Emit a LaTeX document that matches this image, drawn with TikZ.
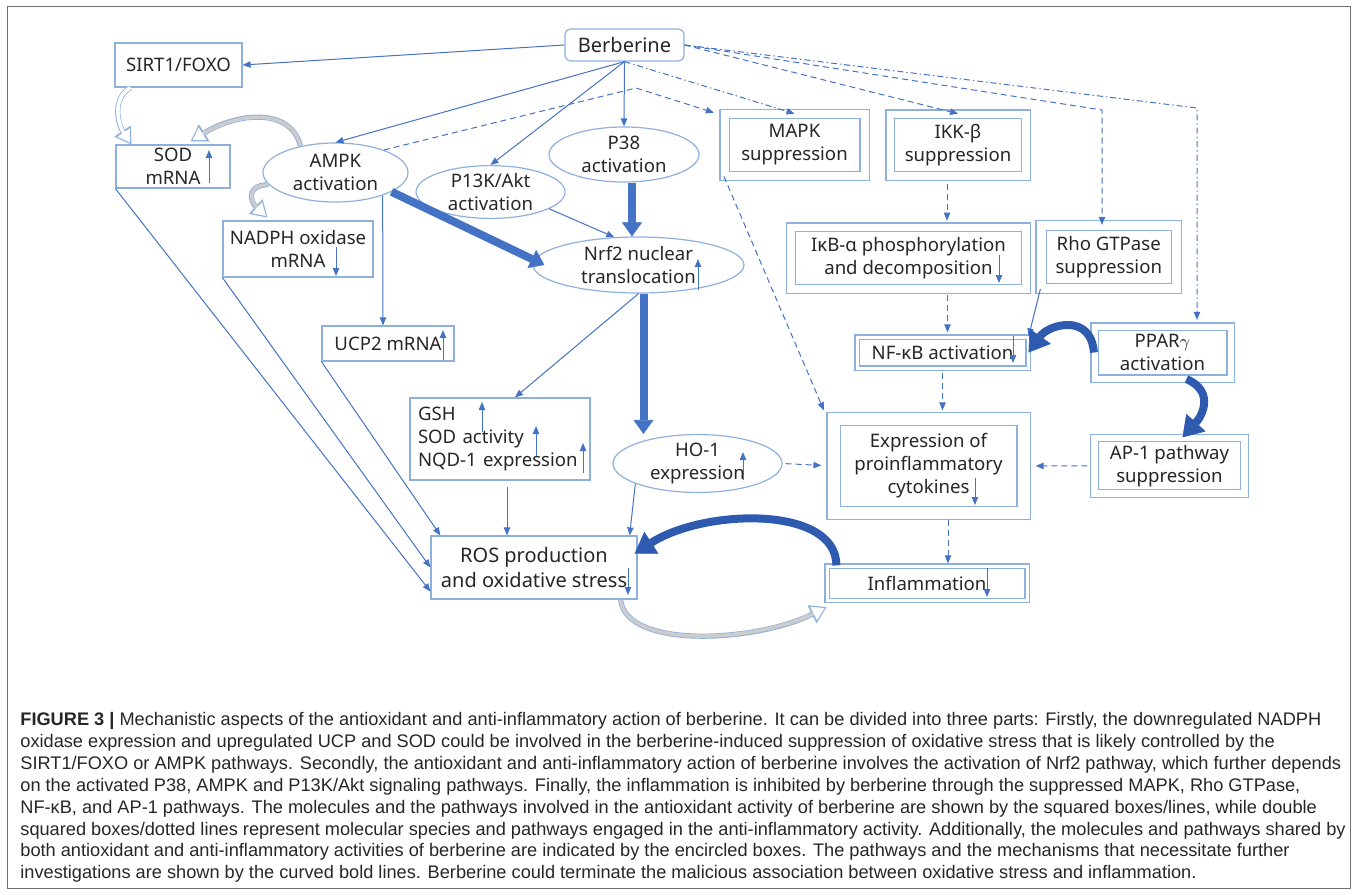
\documentclass[tikz,border=0pt]{standalone}
\usepackage{fontspec}
\setmainfont{Noto Sans}
\newfontfamily\capfont{Liberation Sans}
\usetikzlibrary{arrows.meta, shapes.geometric, calc}
\definecolor{boxblue}{HTML}{8DB0DE}
\definecolor{arrblue}{HTML}{4472C4}
\definecolor{boldblue}{HTML}{2E5BAF}
\definecolor{txtgray}{HTML}{262626}
\definecolor{tailgray}{HTML}{CCCCCC}
\definecolor{framegray}{HTML}{6E6E6E}

\begin{document}
\begin{tikzpicture}[x=0.5pt, y=-0.5pt,
  font=\fontsize{9.3}{11.5}\selectfont, text=txtgray,
  sbox/.style={draw=boxblue, line width=0.6pt, align=center, inner sep=0pt},
  dbox/.style={sbox, double=white, double distance=3.75pt},
  ebox/.style={sbox, ellipse},
  arr/.style={arrblue, line width=0.5pt, -{Triangle[length=4pt, width=3.2pt]}},
  darr/.style={arr, dash pattern=on 3pt off 2pt},
  ddarr/.style={arr, dash pattern=on 3pt off 1.5pt on 0.7pt off 1.5pt},
  fatarr/.style={arrblue, line width=4pt, -{Triangle[length=7pt, width=10pt, line width=0.3pt]}},
  boldarr/.style={boldblue, line width=4pt, -{Triangle[length=10pt, width=13pt, line width=0.3pt]}},
  hollow/.style={draw=white, line width=1.8pt, shorten >=1.1pt,
                 -{Triangle[length=6pt, width=7.4pt, line width=0.3pt]},
                 preaction={draw=boxblue, line width=2.6pt, shorten >=0pt,
                 -{Triangle[length=8pt, width=10pt, line width=0.3pt]}}},
  hollowg/.style={hollow, draw=tailgray,
                 -{Triangle[length=6pt, width=7.4pt, line width=0.3pt, color=white]}},
]
\useasboundingbox (0,0) rectangle (1357,895);

% Frame
\draw[framegray, line width=0.6pt] (7.5,6.5) rectangle (1350.5,888.5);

% ============ Top row ============
\node[sbox, rounded corners=3pt, minimum width=59.5pt, minimum height=16pt, font=\fontsize{10}{12}\selectfont] (berb) at (624.5,45) {Berberine};
\node[sbox, minimum width=63.5pt, minimum height=22pt] (sirt) at (178.5,65) {SIRT1/FOXO};
\node[sbox, minimum width=57pt, minimum height=21.5pt] (sod) at (173,166.5) {SOD\\mRNA};
\node[ebox, minimum width=72.5pt, minimum height=29.5pt] (ampk) at (335.5,172.5) {AMPK\\activation};
\node[ebox, minimum width=74.5pt, minimum height=25pt] (pik) at (490.5,192) {P13K/Akt\\activation};
\node[ebox, minimum width=75pt, minimum height=27.5pt] (p38) at (624,154.5) {P38\\activation};
\node[dbox, double distance=4pt, minimum width=70pt, minimum height=30.75pt] (mapk) at (794.5,145) {MAPK\\suppression};
\node[dbox, minimum width=67.75pt, minimum height=30.75pt] (ikk) at (958,145) {IKK-β\\suppression};

% ============ Middle ============
\node[dbox, minimum width=117.5pt, minimum height=30.75pt] (ikb) at (908.5,258) {IκB-α phosphorylation\\and decomposition};
\node[dbox, double distance=4.5pt, minimum width=67.75pt, minimum height=31.5pt] (rho) at (1108.75,257) {Rho GTPase\\suppression};
\node[sbox, minimum width=75pt, minimum height=28pt] (nadph) at (298,249) {NADPH oxidase\\mRNA};
\node[ebox, minimum width=105.5pt, minimum height=28pt] (nrf) at (638.5,265) {Nrf2 nuclear\\translocation};
\node[sbox, minimum width=66pt, minimum height=17.5pt] (ucp) at (388,343.5) {UCP2 mRNA};
\node[dbox, double distance=1.5pt, minimum width=85.5pt, minimum height=15.5pt] (nfkb) at (942.5,352.5) {NF-κB activation};
\node[dbox, double distance=3pt, minimum width=68pt, minimum height=26pt] (ppar) at (1162.5,352.5) {PPAR$\gamma$\\activation};
\node[sbox, align=left, text width=82pt, minimum width=90pt, minimum height=41pt] (gsh) at (500,439) {GSH\\SOD activity\\NQD-1 expression};
\node[ebox, minimum width=84.5pt, minimum height=26.5pt] (ho) at (697.5,463.5) {HO-1\\expression};
\node[dbox, double distance=6pt, minimum width=95pt, minimum height=47pt] (expr) at (928.5,466) {Expression of\\proinflammatory\\cytokines};
\node[dbox, double distance=3.25pt, minimum width=75pt, minimum height=27.75pt] (ap) at (1169.5,465.75) {AP-1 pathway\\suppression};

% ============ Bottom ============
\node[sbox, minimum width=103pt, minimum height=31.5pt, font=\fontsize{10}{12.5}\selectfont] (ros) at (534,567.5) {ROS production\\and oxidative stress};
\node[dbox, double distance=1.5pt, minimum width=100pt, minimum height=17.25pt] (infl) at (927,583.25) {Inflammation};

% up / down marks inside the boxes
\draw[arr] (209,183) -- (209,150);
\draw[arr] (336,247) -- (336,276);
\draw[arr] (443,360) -- (443,330);
\draw[arr] (698,290) -- (698,259);
\draw[arr] (482,432) -- (482,402);
\draw[arr] (536,456) -- (536,426);
\draw[arr] (583,473) -- (583,443);
\draw[arr] (743,480) -- (743,452);
\draw[arr] (628,568) -- (628,595);
\draw[arr] (999,255) -- (999,283);
\draw[arr] (1013,336) -- (1013,363);
\draw[arr] (975,478) -- (975,505);
\draw[arr] (987,568) -- (987,597);

% ============ Antioxidant pathways (solid) ============
\draw[arr] (berb.west) -- (sirt.east);
\draw[arr] (berb.south) -- (ampk.north);
\draw[arr] (berb.south) -- (pik.north);
\draw[arr] (berb.south) -- (p38.north);
\draw[arr] (pik.-16) -- (nrf.131);
\draw[arr] (ampk.-26) -- ($(ucp.north)+(-5,0)$);
\draw[arr] (nrf.south) -- ($(gsh.north)+(15,0)$);
\coordinate (gsho) at ([xshift=3.5pt]gsh.south);
\draw[arr, shorten <=3pt] (gsho) -- (gsho |- ros.north);
\draw[arr] (ho.198) -- ($(ros.north east)+(-8,0)$);
\draw[arr] (sod.south west) -- ($(ros.west)+(0,24)$);
\draw[arr] (nadph.south west) -- (ros.west);
\draw[arr] (ucp.south west) -- ($(ros.north west)+(10,0)$);
\draw[arr] (rho.south west) -- (nfkb.north east);

% thick arrows into and out of Nrf2
\draw[fatarr] (ampk.-19) -- ($(nrf.west)+(12,0)$);
\coordinate (p38o) at ([xshift=4pt]p38.south);
\draw[fatarr] (p38o) -- (p38o |- nrf.north);
\coordinate (nrfo) at ([xshift=2.5pt]nrf.south);
\draw[fatarr] (nrfo) -- (nrfo |- ho.north);

% ============ Anti-inflammatory pathways (dashed) ============
\coordinate (ampkbend) at (636,88);
\coordinate (rhobend) at (1102,110);
\coordinate (pparbend) at (1197,108);
\draw[darr] (ampk.25) -- (ampkbend) -- ($(mapk.north west)+(-10,-1)$);
\draw[ddarr] (berb.south) -- (mapk.north);
\draw[darr] (berb.east) -- (ikk.north);
\draw[darr] (berb.east) -- (rhobend) -- (rhobend |- rho.north);
\draw[ddarr, shorten >=3pt] (berb.east) -- (pparbend) -- (pparbend |- ppar.north);
\draw[darr] (mapk.south west) -- ($(expr.north west)+(-9,-8)$);
\coordinate (ikko) at ([xshift=-5.5pt]ikk.south);
\draw[darr, shorten <=4pt, shorten >=3pt] (ikko) -- (ikko |- ikb.north);
\coordinate (nfkbo) at ([xshift=2.5pt]nfkb.north);
\draw[darr, shorten <=3pt, shorten >=2pt] (nfkbo |- ikb.south) -- (nfkbo);
\draw[darr, shorten <=2pt, shorten >=4pt] (nfkb.south) -- (nfkb.south |- expr.north);
\draw[darr, shorten <=1.5pt, shorten >=5.75pt] (ho.east) -- (expr.west);
\draw[darr, shorten <=3.25pt, shorten >=5.75pt] (ap.west) -- (expr.east);
\coordinate (inflo) at ([xshift=10.5pt]infl.north);
\draw[darr, shorten <=3pt, shorten >=1pt] (inflo |- expr.south) -- (inflo);

% ============ Curved bold arrows ============
\draw[boldarr] ([xshift=5pt]infl.north west) .. controls +(0,-60) and +(70,-45) .. ($(ros.east)+(-3,-14)$);
\draw[boldarr] (ppar.west) .. controls +(-3,-40) and +(20,-28) .. (nfkb.east);
\draw[boldarr] ([xshift=12pt]ppar.south) .. controls +(28,12) and +(20,-22) .. ([xshift=6.5pt]ap.north);

% hollow curved arrows
\draw[hollow] ([xshift=8pt]sirt.south west) .. controls +(-20,12) and +(-12,-18) .. ([xshift=8pt]sod.north west);
\draw[hollowg] (ampk.143) .. controls +(-10,-40) and +(45,-28) .. ($(sod.north east)+(-40,-3)$);
\draw[hollowg] (ampk.190) .. controls +(-25,2) and +(-15,-14) .. ($(nadph.north west)+(45,-3)$);
\draw[hollowg] ([xshift=-8.5pt]ros.south east) .. controls +(5,50) and +(-70,35) .. ([yshift=-3pt]infl.south west);

% ============ Caption ============
\node[anchor=north west, align=left, inner sep=0pt, font=\capfont\fontsize{9.1}{10.95}\selectfont, text=black!85] (caption) at (20,712) {%
\textbf{FIGURE 3 |} Mechanistic aspects of the antioxidant and anti-inflammatory action of berberine. It can be divided into three parts: Firstly, the downregulated NADPH\\
oxidase expression and upregulated UCP and SOD could be involved in the berberine-induced suppression of oxidative stress that is likely controlled by the\\
SIRT1/FOXO or AMPK pathways. Secondly, the antioxidant and anti-inflammatory action of berberine involves the activation of Nrf2 pathway, which further depends\\
on the activated P38, AMPK and P13K/Akt signaling pathways. Finally, the inflammation is inhibited by berberine through the suppressed MAPK, Rho GTPase,\\
NF-κB, and AP-1 pathways. The molecules and the pathways involved in the antioxidant activity of berberine are shown by the squared boxes/lines, while double\\
squared boxes/dotted lines represent molecular species and pathways engaged in the anti-inflammatory activity. Additionally, the molecules and pathways shared by\\
both antioxidant and anti-inflammatory activities of berberine are indicated by the encircled boxes. The pathways and the mechanisms that necessitate further\\
investigations are shown by the curved bold lines. Berberine could terminate the malicious association between oxidative stress and inflammation.};

\end{tikzpicture}
\end{document}
